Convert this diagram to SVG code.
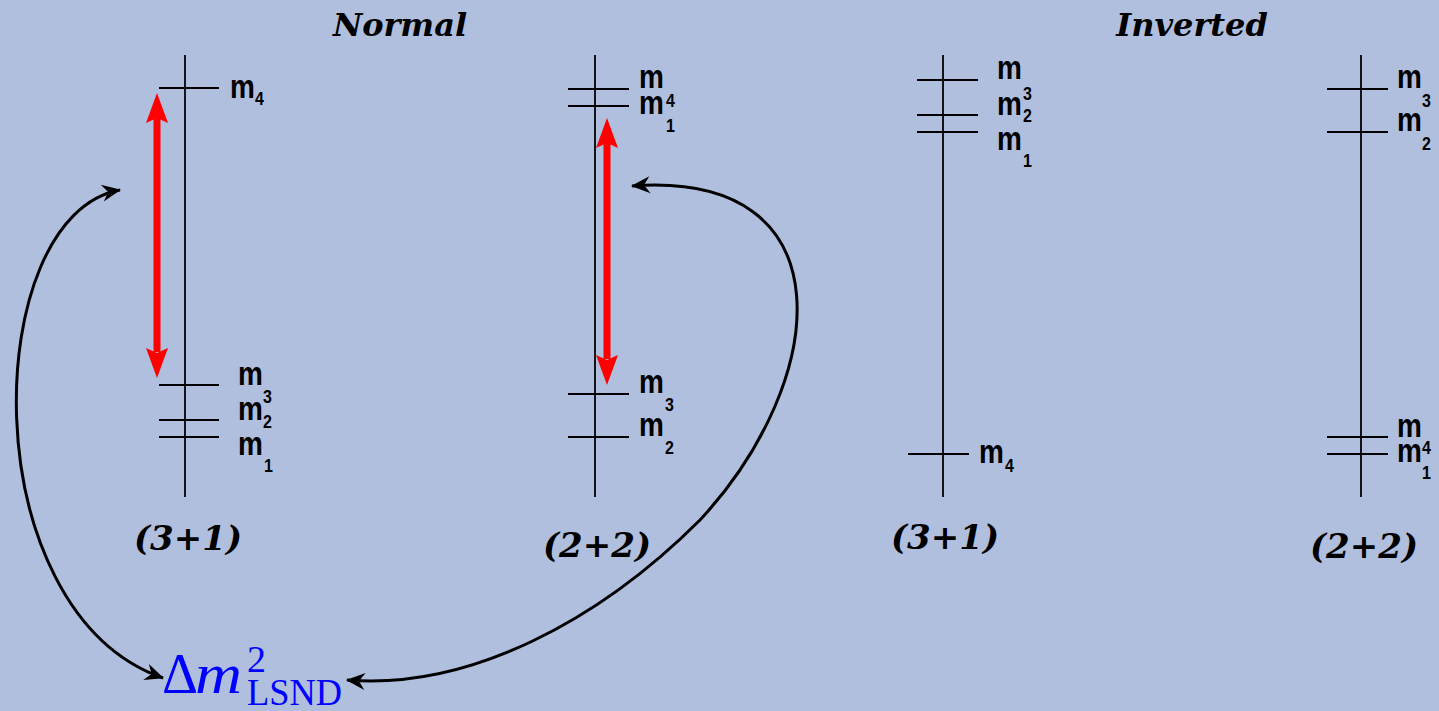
<svg xmlns="http://www.w3.org/2000/svg" width="1439" height="711" viewBox="0 0 1439 711">
<style>
.bg{fill:#B0BFDE}
.axis{stroke:#000;stroke-width:1.8;fill:none}
.tick{stroke:#000;stroke-width:2;fill:none}
.m{font-family:"Liberation Sans",Arial,sans-serif;font-weight:bold;font-size:28px;fill:#000}
.d{font-family:"Liberation Sans",Arial,sans-serif;font-weight:bold;font-size:16px;fill:#000}
.title{font-family:"DejaVu Serif",serif;font-weight:bold;font-style:italic;font-size:32px;fill:#000}
.lab{font-family:"DejaVu Serif",serif;font-weight:bold;font-style:italic;font-size:34px;fill:#000}
.red{stroke:#FF0000;stroke-width:7;fill:none}
.redhead{fill:#FF0000}
.curve{stroke:#000;stroke-width:3;fill:none;marker-start:url(#ah);marker-end:url(#ah)}
.lsnd{font-family:"Liberation Serif","Times New Roman",serif;fill:#0000FF}
</style>
<defs>
<marker id="ah" viewBox="-20 -10 22 20" markerWidth="22" markerHeight="20" refX="0" refY="0" orient="auto-start-reverse" markerUnits="userSpaceOnUse">
<path d="M1,0 L-18,-8.5 L-12,0 L-18,8.5 Z" fill="#000"/>
</marker>
</defs>
<rect class="bg" x="0" y="0" width="1439" height="711"/>

<g id="title-normal"><text class="title" x="400" y="36" text-anchor="middle">Normal</text></g>
<g id="title-inverted"><text class="title" x="1192" y="36" text-anchor="middle">Inverted</text></g>

<g id="normal-3p1">
<line class="axis" x1="185" y1="55" x2="185" y2="497"/>
<line class="tick" x1="159" y1="88" x2="219" y2="88"/>
<line class="tick" x1="159" y1="385" x2="219" y2="385"/>
<line class="tick" x1="159" y1="420" x2="219" y2="420"/>
<line class="tick" x1="159" y1="437" x2="219" y2="437"/>
<text class="m" transform="translate(230 98) scale(1 1.2)">m</text>
<text class="d" transform="translate(255 105) scale(1 1.2)">4</text>
<text class="m" transform="translate(238 385) scale(1 1.2)">m</text>
<text class="d" transform="translate(263 403) scale(1 1.2)">3</text>
<text class="m" transform="translate(238 420) scale(1 1.2)">m</text>
<text class="d" transform="translate(263 428) scale(1 1.2)">2</text>
<text class="m" transform="translate(238 455) scale(1 1.2)">m</text>
<text class="d" transform="translate(264 472) scale(1 1.2)">1</text>
<line class="red" x1="157" y1="118" x2="157" y2="352"/>
<polygon class="redhead" points="157,93 146,123 157,118 168,123"/>
<polygon class="redhead" points="157,378 146,348 157,353 168,348"/>
<text class="lab" x="188" y="550" text-anchor="middle">(3+1)</text>
</g>

<g id="normal-2p2">
<line class="axis" x1="595" y1="55" x2="595" y2="497"/>
<line class="tick" x1="568" y1="89" x2="629" y2="89"/>
<line class="tick" x1="568" y1="106" x2="629" y2="106"/>
<line class="tick" x1="568" y1="394" x2="629" y2="394"/>
<line class="tick" x1="568" y1="437" x2="629" y2="437"/>
<text class="m" transform="translate(639 88) scale(1 1.2)">m</text>
<text class="d" transform="translate(666 107) scale(1 1.2)">4</text>
<text class="m" transform="translate(639 114) scale(1 1.2)">m</text>
<text class="d" transform="translate(666 132) scale(1 1.2)">1</text>
<text class="m" transform="translate(639 393) scale(1 1.2)">m</text>
<text class="d" transform="translate(665 411) scale(1 1.2)">3</text>
<text class="m" transform="translate(639 436) scale(1 1.2)">m</text>
<text class="d" transform="translate(665 454) scale(1 1.2)">2</text>
<line class="red" x1="607" y1="143" x2="607" y2="359"/>
<polygon class="redhead" points="607,118 596,148 607,143 618,148"/>
<polygon class="redhead" points="607,385 596,355 607,360 618,355"/>
<text class="lab" x="597" y="557" text-anchor="middle">(2+2)</text>
</g>

<g id="inverted-3p1">
<line class="axis" x1="943" y1="55" x2="943" y2="497"/>
<line class="tick" x1="917" y1="80" x2="978" y2="80"/>
<line class="tick" x1="917" y1="115" x2="978" y2="115"/>
<line class="tick" x1="917" y1="132" x2="978" y2="132"/>
<line class="tick" x1="908" y1="454" x2="969" y2="454"/>
<text class="m" transform="translate(997 79) scale(1 1.2)">m</text>
<text class="d" transform="translate(1023 100) scale(1 1.2)">3</text>
<text class="m" transform="translate(997 115) scale(1 1.2)">m</text>
<text class="d" transform="translate(1023 122) scale(1 1.2)">2</text>
<text class="m" transform="translate(997 150) scale(1 1.2)">m</text>
<text class="d" transform="translate(1023 167) scale(1 1.2)">1</text>
<text class="m" transform="translate(979 463) scale(1 1.2)">m</text>
<text class="d" transform="translate(1005 472) scale(1 1.2)">4</text>
<text class="lab" x="945" y="549" text-anchor="middle">(3+1)</text>
</g>

<g id="inverted-2p2">
<line class="axis" x1="1361" y1="55" x2="1361" y2="497"/>
<line class="tick" x1="1327" y1="89" x2="1388" y2="89"/>
<line class="tick" x1="1327" y1="132" x2="1388" y2="132"/>
<line class="tick" x1="1327" y1="437" x2="1388" y2="437"/>
<line class="tick" x1="1327" y1="454" x2="1388" y2="454"/>
<text class="m" transform="translate(1397 88) scale(1 1.2)">m</text>
<text class="d" transform="translate(1422 107) scale(1 1.2)">3</text>
<text class="m" transform="translate(1397 131) scale(1 1.2)">m</text>
<text class="d" transform="translate(1422 150) scale(1 1.2)">2</text>
<text class="m" transform="translate(1397 437) scale(1 1.2)">m</text>
<text class="d" transform="translate(1422 454) scale(1 1.2)">4</text>
<text class="m" transform="translate(1397 462) scale(1 1.2)">m</text>
<text class="d" transform="translate(1422 479) scale(1 1.2)">1</text>
<text class="lab" x="1364" y="558" text-anchor="middle">(2+2)</text>
</g>

<g id="lsnd">
<text class="lsnd" x="162" y="693" font-size="56">Δ</text>
<text class="lsnd" x="195" y="693" font-size="56" font-style="italic" textLength="47" lengthAdjust="spacingAndGlyphs">m</text>
<text class="lsnd" x="247" y="672" font-size="38">2</text>
<text class="lsnd" x="247" y="705" font-size="38" textLength="95" lengthAdjust="spacingAndGlyphs">LSND</text>
</g>

<g id="connectors">
<path class="curve" d="M120 190 C-20 215,-30 610,163 678"/>
<path class="curve" d="M632 186 C850 170,830 380,700 520 C600 620,470 690,347 680"/>
</g>
</svg>
